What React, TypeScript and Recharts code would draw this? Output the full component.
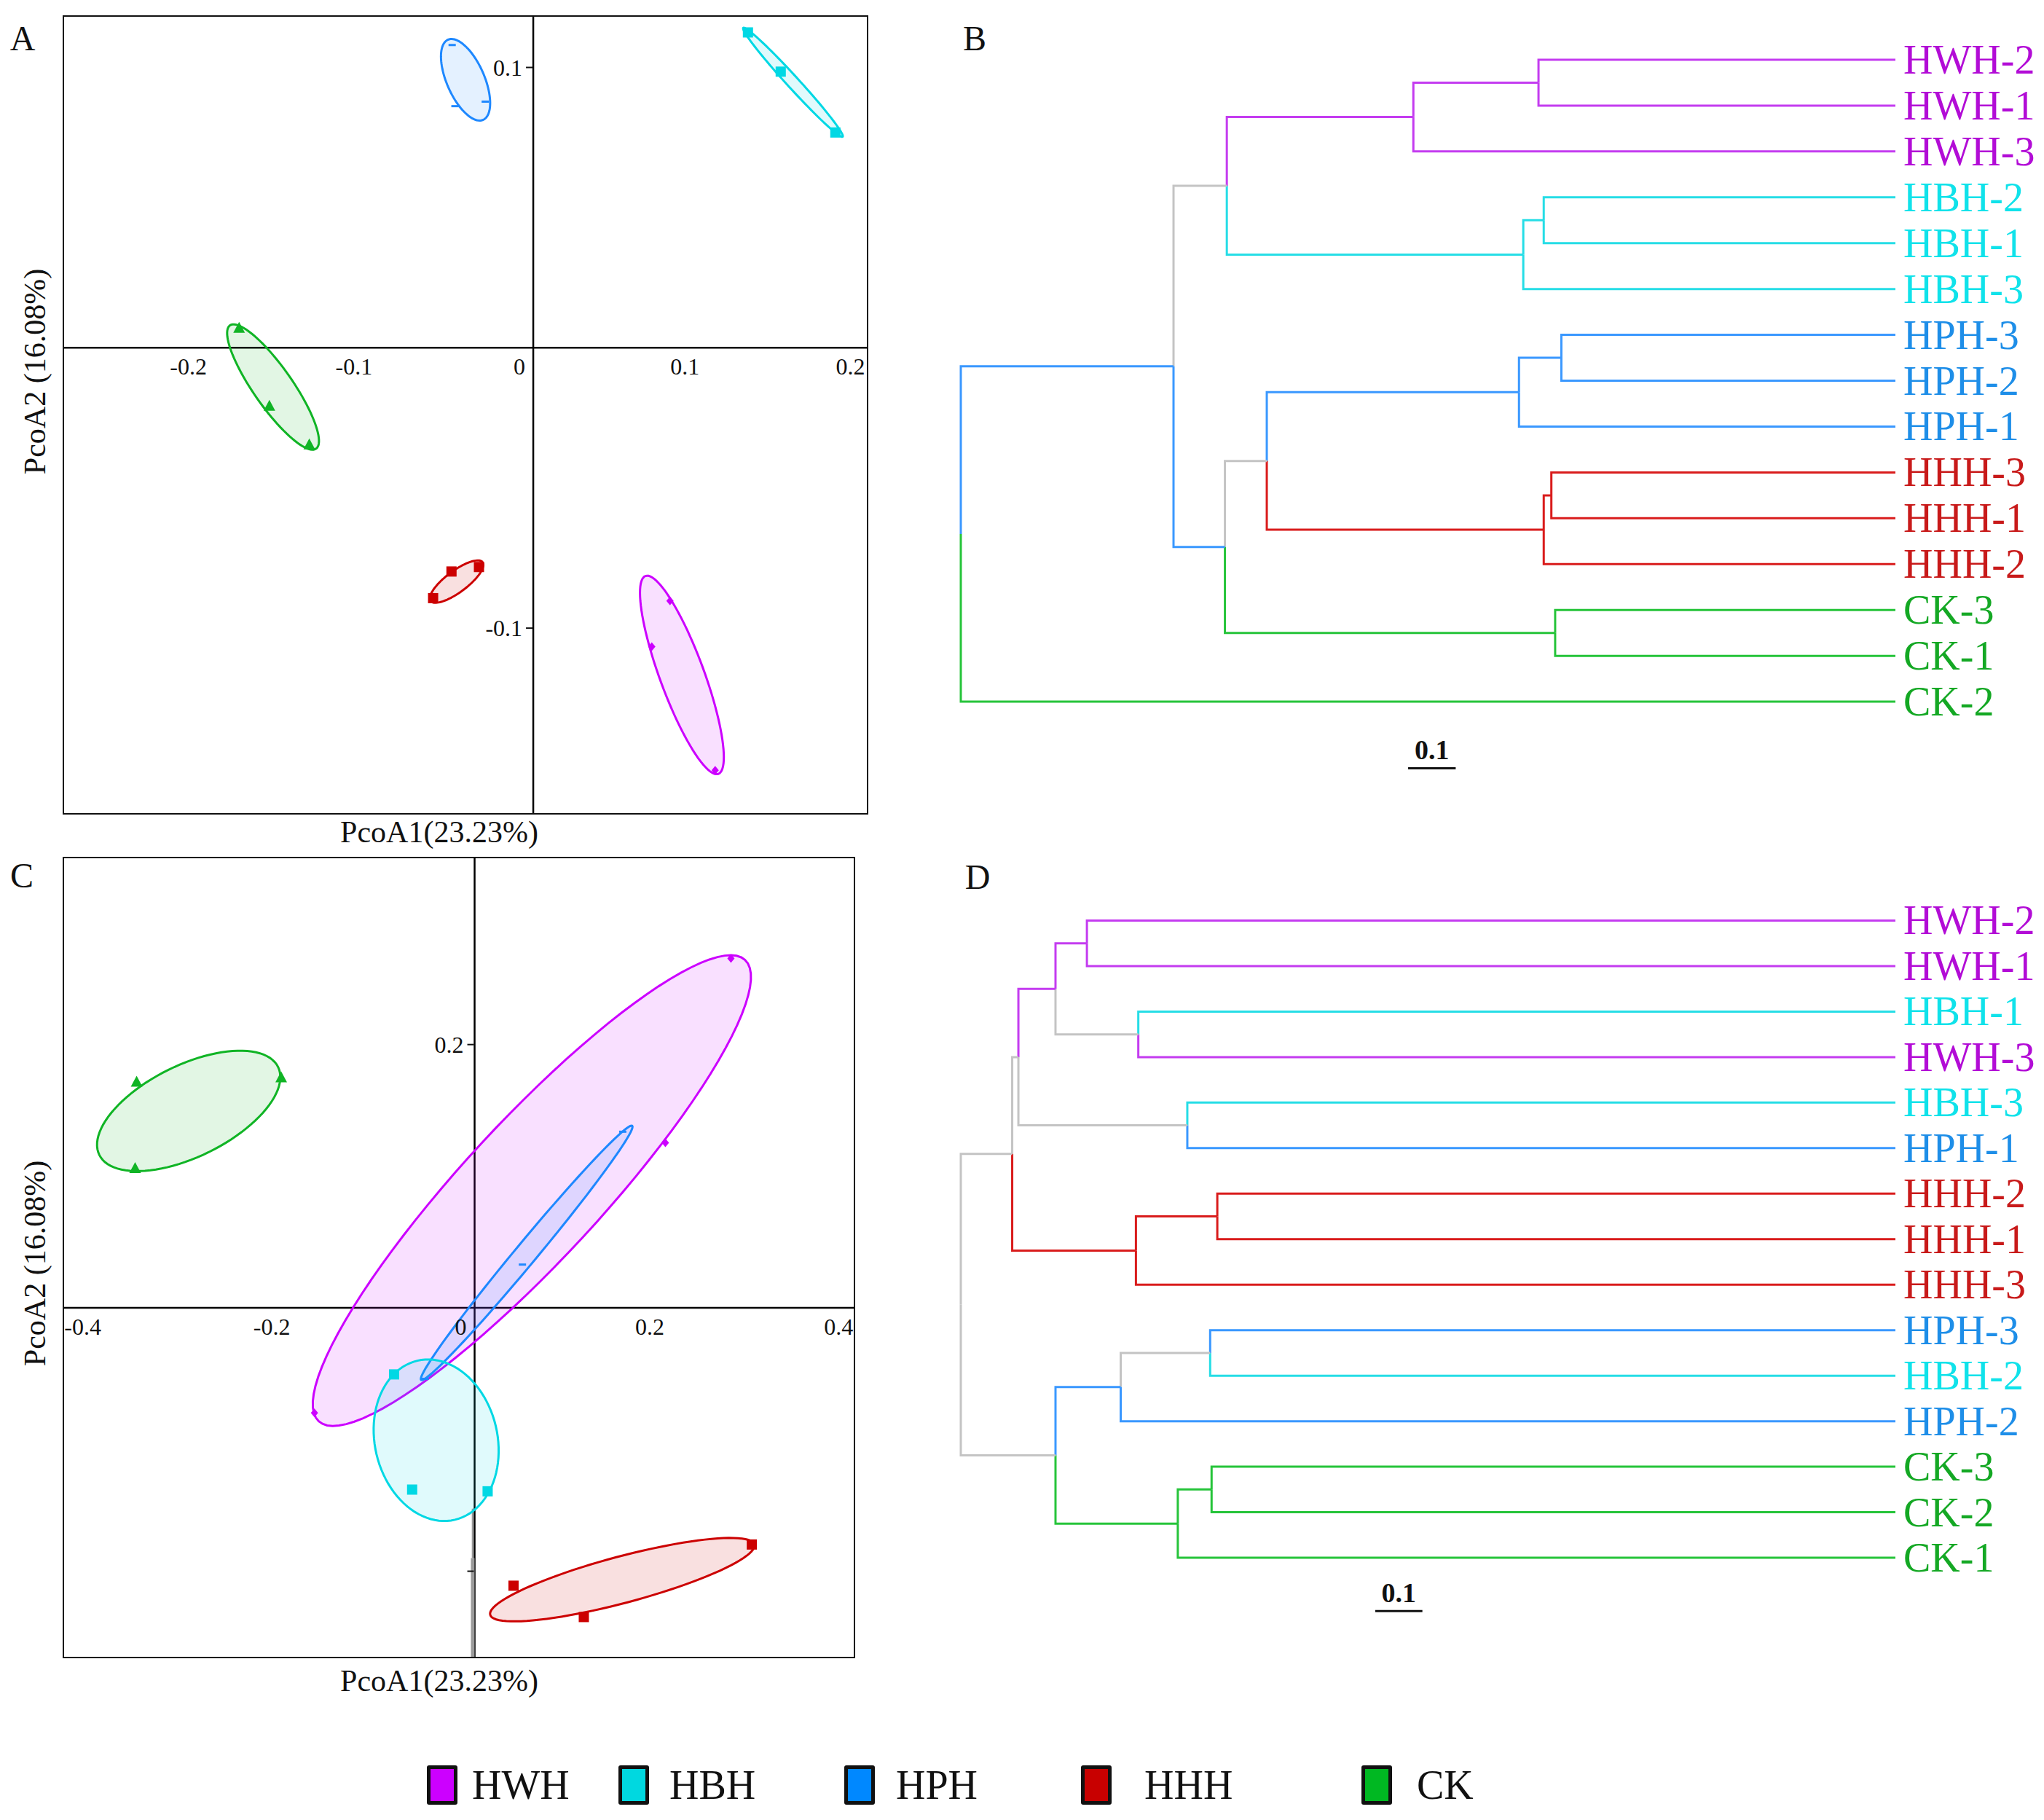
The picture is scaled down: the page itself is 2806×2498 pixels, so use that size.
import React from 'react'
import { ScatterChart, Scatter, XAxis, YAxis, ReferenceLine } from 'recharts'

const FONT = '"Liberation Serif", "Times New Roman", serif'

// group colours
const COLORS: Record<string, string> = {
  HWH: '#cc00ff',
  HBH: '#00d8e4',
  HPH: '#1e88ff',
  HHH: '#cc0000',
  CK: '#10b425',
}
const LEGEND_COLORS: Record<string, string> = {
  HWH: '#cc00ff',
  HBH: '#00d8e0',
  HPH: '#0088ff',
  HHH: '#c80000',
  CK: '#00b822',
}
const TREE_COLORS: Record<string, string> = {
  W: '#c43cf0',
  B: '#26dde6',
  P: '#3a98ff',
  H: '#d91c1c',
  C: '#26c43a',
  G: '#c4c4c4',
}
const LABEL_COLORS: Record<string, string> = {
  HWH: '#b20cd6',
  HBH: '#10e2ea',
  HPH: '#1e8ee8',
  HHH: '#c81a1a',
  CK: '#14a824',
}

const groups = ['HWH', 'HBH', 'HPH', 'HHH', 'CK']

// ---- Panel A : PCoA points (PcoA1, PcoA2) ----
const pointsA_HWH = [[0.0826, -0.0903], [0.0716, -0.1066], [0.1099, -0.1507]]
const pointsA_HBH = [[0.1297, 0.1125], [0.1495, 0.0985], [0.1825, 0.0768]]
const pointsA_HPH = [[-0.0473, 0.0862], [-0.029, 0.0878], [-0.049, 0.108]]
const pointsA_HHH = [[-0.0605, -0.0893], [-0.0494, -0.0798], [-0.0328, -0.0782]]
const pointsA_CK = [[-0.1777, 0.0069], [-0.1594, -0.0209], [-0.1353, -0.0347]]

// ellipse: centre, tip of the major axis, minor/major ratio
const ellipsesA = [
  { group: 'HWH', c: [0.0898, -0.1167], tip: [0.1118, -0.152], ratio: 0.21 },
  { group: 'HBH', c: [0.1569, 0.0947], tip: [0.1869, 0.0753], ratio: 0.08 },
  { group: 'HPH', c: [-0.0409, 0.0956], tip: [-0.0303, 0.0813], ratio: 0.43 },
  { group: 'HHH', c: [-0.0463, -0.0834], tip: [-0.0306, -0.0765], ratio: 0.33 },
  { group: 'CK', c: [-0.1572, -0.014], tip: [-0.1312, -0.036], ratio: 0.26 },
]
const domainAX = [-0.2843, 0.2024]
const domainAY = [-0.1665, 0.1186]
const ticksAX = [-0.2, -0.1, 0, 0.1, 0.2]
const ticksAY = [0.1, -0.1]

// ---- Panel C : PCoA points ----
const pointsC_HWH = [[0.2713, 0.2654], [0.2019, 0.1254], [-0.1695, -0.0797]]
const pointsC_HBH = [[-0.0852, -0.0505], [-0.0661, -0.138], [0.0138, -0.1393]]
const pointsC_HPH = [[0.0506, 0.0329], [0.1568, 0.1338], [-0.0523, -0.0539]]
const pointsC_HHH = [[0.0412, -0.211], [0.1156, -0.2348], [0.2934, -0.1797]]
const pointsC_CK = [[-0.3577, 0.1713], [-0.2047, 0.1746], [-0.3593, 0.1058]]

const ellipsesC = [
  { group: 'HWH', c: [0.0606, 0.0891], tip: [0.2862, 0.2643], ratio: 0.22 },
  { group: 'HPH', c: [0.0551, 0.0418], tip: [0.1668, 0.1383], ratio: 0.065 },
  { group: 'HBH', c: [-0.0407, -0.1005], tip: [-0.0606, -0.0401], ratio: 0.75 },
  { group: 'HHH', c: [0.1563, -0.2064], tip: [0.2961, -0.1797], ratio: 0.17 },
  { group: 'CK', c: [-0.3026, 0.1496], tip: [-0.208, 0.183], ratio: 0.46 },
]
const domainCX = [-0.436, 0.4028]
const domainCY = [-0.2661, 0.3426]
const ticksCX = [-0.4, -0.2, 0, 0.2, 0.4]
const ticksCY = [0.2]
const ticksCYDash = [-0.2]

const MARKERS: Record<string, string> = { HWH: 'diamond', HBH: 'square', HPH: 'dash', HHH: 'square', CK: 'triangle' }

// ---- Panel B : dendrogram ----
const LEAF_X = 1.964
const leavesB = ['HWH-2', 'HWH-1', 'HWH-3', 'HBH-2', 'HBH-1', 'HBH-3', 'HPH-3', 'HPH-2', 'HPH-1', 'HHH-3', 'HHH-1', 'HHH-2', 'CK-3', 'CK-1', 'CK-2']
const nodesB = [
  { id: 'w12', x: 1.214, kids: ['HWH-2', 'HWH-1'], cols: ['W', 'W'] },
  { id: 'w', x: 0.951, kids: ['w12', 'HWH-3'], cols: ['W', 'W'] },
  { id: 'b12', x: 1.225, kids: ['HBH-2', 'HBH-1'], cols: ['B', 'B'] },
  { id: 'b', x: 1.182, kids: ['b12', 'HBH-3'], cols: ['B', 'B'] },
  { id: 'wb', x: 0.559, kids: ['w', 'b'], cols: ['W', 'B'] },
  { id: 'p32', x: 1.262, kids: ['HPH-3', 'HPH-2'], cols: ['P', 'P'] },
  { id: 'p', x: 1.173, kids: ['p32', 'HPH-1'], cols: ['P', 'P'] },
  { id: 'h31', x: 1.241, kids: ['HHH-3', 'HHH-1'], cols: ['H', 'H'] },
  { id: 'h', x: 1.225, kids: ['h31', 'HHH-2'], cols: ['H', 'H'] },
  { id: 'ph', x: 0.643, kids: ['p', 'h'], cols: ['P', 'H'] },
  { id: 'c31', x: 1.249, kids: ['CK-3', 'CK-1'], cols: ['C', 'C'] },
  { id: 'phc', x: 0.555, kids: ['ph', 'c31'], cols: ['G', 'C'] },
  { id: 'n1', x: 0.447, kids: ['wb', 'phc'], cols: ['G', 'P'] },
  { id: 'root', x: 0, kids: ['n1', 'CK-2'], cols: ['P', 'C'] },
]
const scaleBarB = [0.94, 1.04]
const scaleBarBY = 15.45

// ---- Panel D : dendrogram ----
const leavesD = ['HWH-2', 'HWH-1', 'HBH-1', 'HWH-3', 'HBH-3', 'HPH-1', 'HHH-2', 'HHH-1', 'HHH-3', 'HPH-3', 'HBH-2', 'HPH-2', 'CK-3', 'CK-2', 'CK-1']
const nodesD = [
  { id: 'w12', x: 0.265, kids: ['HWH-2', 'HWH-1'], cols: ['W', 'W'] },
  { id: 'bw', x: 0.373, kids: ['HBH-1', 'HWH-3'], cols: ['B', 'W'] },
  { id: 'c', x: 0.199, kids: ['w12', 'bw'], cols: ['W', 'G'] },
  { id: 'bp', x: 0.476, kids: ['HBH-3', 'HPH-1'], cols: ['B', 'P'] },
  { id: 'nb', x: 0.121, kids: ['c', 'bp'], cols: ['W', 'G'] },
  { id: 'h21', x: 0.539, kids: ['HHH-2', 'HHH-1'], cols: ['H', 'H'] },
  { id: 'h', x: 0.368, kids: ['h21', 'HHH-3'], cols: ['H', 'H'] },
  { id: 'na', x: 0.108, kids: ['nb', 'h'], cols: ['G', 'H'] },
  { id: 'pb', x: 0.524, kids: ['HPH-3', 'HBH-2'], cols: ['P', 'B'] },
  { id: 'pbp', x: 0.336, kids: ['pb', 'HPH-2'], cols: ['G', 'P'] },
  { id: 'c32', x: 0.527, kids: ['CK-3', 'CK-2'], cols: ['C', 'C'] },
  { id: 'ck', x: 0.456, kids: ['c32', 'CK-1'], cols: ['C', 'C'] },
  { id: 'nl', x: 0.199, kids: ['pbp', 'ck'], cols: ['P', 'C'] },
  { id: 'root', x: 0, kids: ['na', 'nl'], cols: ['G', 'G'] },
]
const scaleBarD = [0.871, 0.97]
const scaleBarDY = 15.17

const Empty = () => <g />

// outline of an ellipse given in data units (minor axis perpendicular on screen)
function ellipseOutline(e: any, kx: number, ky: number) {
  const [cx, cy] = e.c
  const ux = e.tip[0] - cx
  const uy = e.tip[1] - cy
  const vx = (-uy * ky * e.ratio) / kx
  const vy = (ux * kx * e.ratio) / ky
  const pts = []
  for (let i = 0; i < 96; i++) {
    const t = (i / 96) * Math.PI * 2
    pts.push({ x: cx + ux * Math.cos(t) + vx * Math.sin(t), y: cy + uy * Math.cos(t) + vy * Math.sin(t) })
  }
  return pts
}

const markerShape = (kind: string, color: string) => (p: any) => {
  const { cx, cy } = p
  if (kind === 'triangle')
    return <polygon points={`${cx},${cy - 9} ${cx - 8},${cy + 6} ${cx + 8},${cy + 6}`} fill={color} />
  if (kind === 'square') return <rect x={cx - 7} y={cy - 7} width={14} height={14} fill={color} />
  if (kind === 'diamond')
    return <polygon points={`${cx},${cy - 6} ${cx + 5},${cy} ${cx},${cy + 6} ${cx - 5},${cy}`} fill={color} />
  return <rect x={cx - 5} y={cy - 1.5} width={10} height={3} fill={color} />
}

const XTick = (p: any) => (
  <text x={p.cx - 19} y={p.cy + 37} textAnchor="middle" fontSize={32} fontFamily={FONT} fill="#111">
    {p.payload?.label ?? p.label}
  </text>
)
const YTick = (p: any) => (
  <g>
    <line x1={p.cx - 10} x2={p.cx - 1} y1={p.cy} y2={p.cy} stroke="#111" strokeWidth={2} />
    <text x={p.cx - 15} y={p.cy + 11} textAnchor="end" fontSize={32} fontFamily={FONT} fill="#111">
      {p.payload?.label ?? p.label}
    </text>
  </g>
)

const toXY = (arr: number[][]) => arr.map(([x, y]) => ({ x, y }))

function PcoaPanel({ width, height, domX, domY, ellipses, points, ticksX, ticksY, dashY = [], children }: any) {
  const kx = width / (domX[1] - domX[0])
  const ky = height / (domY[1] - domY[0])
  return (
    <div style={{ position: 'relative', width, height }}>
      <ScatterChart width={width} height={height} margin={{ top: 0, right: 0, bottom: 0, left: 0 }}>
        <XAxis type="number" dataKey="x" domain={domX} hide />
        <YAxis type="number" dataKey="y" domain={domY} hide />
        <ReferenceLine x={0} stroke="#000" strokeWidth={2.5} />
        <ReferenceLine y={0} stroke="#000" strokeWidth={2.5} />
        {children}
        {ellipses.map((e: any) => (
          <Scatter
            key={'ell-' + e.group}
            data={ellipseOutline(e, kx, ky)}
            shape={Empty}
            line={{ stroke: COLORS[e.group], strokeWidth: 3, fill: COLORS[e.group], fillOpacity: 0.12 }}
            lineJointType="linearClosed"
            isAnimationActive={false}
          />
        ))}
        {groups.map((g) => (
          <Scatter
            key={'pts-' + g}
            data={toXY(points[g])}
            shape={markerShape(MARKERS[g], COLORS[g])}
            isAnimationActive={false}
          />
        ))}
        <Scatter data={ticksX.map((v: number) => ({ x: v, y: 0, label: String(v) }))} shape={XTick} isAnimationActive={false} />
        <Scatter data={ticksY.map((v: number) => ({ x: 0, y: v, label: String(v) }))} shape={YTick} isAnimationActive={false} />
        <Scatter data={dashY.map((v: number) => ({ x: 0, y: v, label: '' }))} shape={YTick} isAnimationActive={false} />
      </ScatterChart>
      <div style={{ position: 'absolute', inset: 0, border: '2px solid #111', boxSizing: 'border-box', pointerEvents: 'none' }} />
    </div>
  )
}

function layoutTree(leaves: string[], nodes: any[]) {
  const pos: Record<string, { x: number; y: number }> = {}
  leaves.forEach((n, i) => (pos[n] = { x: LEAF_X, y: i }))
  nodes.forEach((nd) => {
    pos[nd.id] = { x: nd.x, y: (pos[nd.kids[0]].y + pos[nd.kids[1]].y) / 2 }
  })
  const edges: any[] = []
  nodes.forEach((nd) =>
    nd.kids.forEach((k: string, j: number) => {
      const p = pos[nd.id]
      const c = pos[k]
      edges.push({
        key: nd.id + '-' + k,
        color: TREE_COLORS[nd.cols[j]],
        pts: [{ x: p.x, y: p.y }, { x: p.x, y: c.y }, { x: c.x, y: c.y }],
      })
    })
  )
  return edges
}

const LeafLabel = (p: any) => {
  const d = p.payload ?? p
  return (
    <text x={p.cx + 11} y={p.cy + 19} fontSize={56} fontFamily={FONT} fill={LABEL_COLORS[d.name.split('-')[0]]}>
      {d.name}
    </text>
  )
}
const BarLabel = (p: any) => (
  <text x={p.cx} y={p.cy - 12} textAnchor="middle" fontSize={38} fontWeight="bold" fontFamily={FONT} fill="#111">
    0.1
  </text>
)

function Dendrogram({ leaves, nodes, bar, barY, height }: any) {
  const edges = layoutTree(leaves, nodes)
  return (
    <ScatterChart width={1526} height={height} margin={{ top: 0, right: 204, bottom: 0, left: 39 }}>
      <XAxis type="number" dataKey="x" domain={[0, LEAF_X]} hide />
      <YAxis type="number" dataKey="y" domain={[-1, 16]} reversed hide />
      {edges.map((e) => (
        <Scatter
          key={e.key}
          data={e.pts}
          shape={Empty}
          line={{ stroke: e.color, strokeWidth: 3 }}
          lineJointType="linear"
          isAnimationActive={false}
        />
      ))}
      <Scatter data={leaves.map((n: string, i: number) => ({ x: LEAF_X, y: i, name: n }))} shape={LeafLabel} isAnimationActive={false} />
      <Scatter
        data={[{ x: bar[0], y: barY }, { x: bar[1], y: barY }]}
        shape={Empty}
        line={{ stroke: '#111', strokeWidth: 3 }}
        isAnimationActive={false}
      />
      <Scatter data={[{ x: (bar[0] + bar[1]) / 2, y: barY }]} shape={BarLabel} isAnimationActive={false} />
    </ScatterChart>
  )
}

const abs = (left: number, top: number, extra: any = {}) => ({ position: 'absolute' as const, left, top, ...extra })

function PanelLetter({ ch, x, y }: any) {
  return (
    <div style={abs(x - 20, y - 25, { width: 40, fontSize: 48, lineHeight: '48px', textAlign: 'center', fontFamily: FONT })}>{ch}</div>
  )
}

function AxisTitle({ text, x, y, rotate }: any) {
  return (
    <div
      style={abs(x - 300, y - 21, {
        width: 600,
        fontSize: 42,
        lineHeight: '42px',
        textAlign: 'center',
        fontFamily: FONT,
        transform: rotate ? 'rotate(-90deg)' : undefined,
        whiteSpace: 'nowrap',
      })}
    >
      {text}
    </div>
  )
}

const legendSwatchX = [586, 849, 1159, 1484, 1869]
const legendTextX = [648, 919, 1230, 1571, 1945]

export default function App() {
  return (
    <div style={{ position: 'absolute', left: 0, top: 0, width: 2806, height: 2498, background: '#fff', overflow: 'hidden', fontFamily: FONT, color: '#111' }}>
      <PanelLetter ch="A" x={31} y={54} />
      <PanelLetter ch="B" x={1338} y={54} />
      <PanelLetter ch="C" x={30} y={1203} />
      <PanelLetter ch="D" x={1342} y={1205} />

      <div style={abs(86, 21)}>
        <PcoaPanel
          width={1106}
          height={1097}
          domX={domainAX}
          domY={domainAY}
          ellipses={ellipsesA}
          points={{ HWH: pointsA_HWH, HBH: pointsA_HBH, HPH: pointsA_HPH, HHH: pointsA_HHH, CK: pointsA_CK }}
          ticksX={ticksAX}
          ticksY={ticksAY}
        />
      </div>
      <AxisTitle text="PcoA1(23.23%)" x={603} y={1142} />
      <AxisTitle text="PcoA2 (16.08%)" x={48} y={510} rotate />

      <div style={abs(86, 1176)}>
        <PcoaPanel
          width={1088}
          height={1100}
          domX={domainCX}
          domY={domainCY}
          ellipses={ellipsesC}
          points={{ HWH: pointsC_HWH, HBH: pointsC_HBH, HPH: pointsC_HPH, HHH: pointsC_HHH, CK: pointsC_CK }}
          ticksX={ticksCX}
          ticksY={ticksCY}
          dashY={ticksCYDash}
        >
          <ReferenceLine segment={[{ x: -0.002, y: -0.1525 }, { x: -0.002, y: -0.19 }]} stroke="#9a9a9a" strokeWidth={2.5} />
          <ReferenceLine segment={[{ x: -0.002, y: -0.19 }, { x: -0.002, y: -0.2661 }]} stroke="#9a9a9a" strokeWidth={5} />
        </PcoaPanel>
      </div>
      <AxisTitle text="PcoA1(23.23%)" x={603} y={2307} />
      <AxisTitle text="PcoA2 (16.08%)" x={48} y={1734} rotate />

      <div style={abs(1280, 19)}>
        <Dendrogram leaves={leavesB} nodes={nodesB} bar={scaleBarB} barY={scaleBarBY} height={1070} />
      </div>
      <div style={abs(1280, 1201)}>
        <Dendrogram leaves={leavesD} nodes={nodesD} bar={scaleBarD} barY={scaleBarDY} height={1062} />
      </div>

      {groups.map((g, i) => (
        <React.Fragment key={g}>
          <div
            style={abs(legendSwatchX[i], 2423, {
              width: 42,
              height: 54,
              boxSizing: 'border-box',
              border: '5px solid #111',
              borderRadius: 3,
              background: LEGEND_COLORS[g],
            })}
          />
          <div style={abs(legendTextX[i], 2422, { fontSize: 56, lineHeight: '56px', fontFamily: FONT, whiteSpace: 'nowrap' })}>{g}</div>
        </React.Fragment>
      ))}
    </div>
  )
}
